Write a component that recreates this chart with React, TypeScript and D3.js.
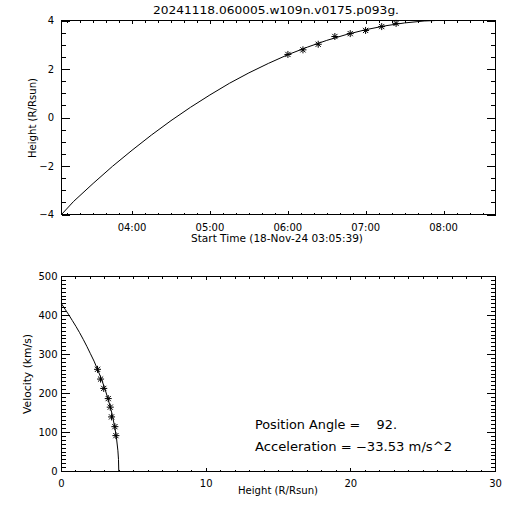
import React from "react";
import * as d3 from "d3";

// ---------- data ----------
const titleText = "20241118.060005.w109n.v0175.p093g.";
const dayStr = "2024-11-18";
const startTime = "03:05:39";
const endTime = "08:40:00";

// fitted height-time curve
const fitTimes = ["03:05:39","03:15:00","03:30:00","03:45:00","04:00:00","04:15:00","04:30:00","04:45:00","05:00:00","05:15:00","05:30:00","05:45:00","06:00:00","06:15:00","06:30:00","06:45:00","07:00:00","07:15:00","07:30:00","07:45:00","07:54:00"];
const fitHeights = [-4.00,-3.46,-2.72,-2.01,-1.35,-0.72,-0.13,0.42,0.93,1.41,1.84,2.23,2.59,2.90,3.18,3.42,3.62,3.78,3.90,3.98,4.00];

// measured points (asterisks)
const obsTimes = ["06:00:05","06:11:40","06:23:25","06:36:15","06:48:05","06:59:55","07:12:20","07:23:25"];
const obsHeights = [2.60,2.79,3.02,3.34,3.46,3.59,3.75,3.88];

// velocity vs height curve
const velCurveHeights = [0,0.25,0.5,0.75,1.0,1.25,1.5,1.75,2.0,2.25,2.5,2.75,3.0,3.25,3.5,3.7,3.8,3.9,3.94,3.96];
const velCurveValues = [430,416,402,387,372,356,339,321,302,283,261,238,212,182,147,110,86,53,31,0];

const obsVelHeights = [2.49,2.70,2.92,3.23,3.37,3.46,3.69,3.76];
const obsVelValues = [262,237,213,187,165,140,115,92];

const timeTickLabels = ["04:00","05:00","06:00","07:00","08:00"];
const heightTicks = [-4,-2,0,2,4];
const velTicks = [0,100,200,300,400,500];
const rTicks = [0,10,20,30];

const positionAngle = "92.";
const acceleration = "−33.53";

// ---------- layout ----------
const FONT = "DejaVu Sans, sans-serif";
const X0 = 61.5, X1 = 495.5;
const T0 = 20.5, T1 = 214.5;
const B0 = 276.5, B1 = 471.5;

const parse = d3.timeParse("%Y-%m-%d %H:%M:%S");
const pt = (s: string) => parse(`${dayStr} ${s.length === 5 ? s + ":00" : s}`) as Date;

const Star = ({ x, y }: { x: number; y: number }) => {
  const r = 3.5, d = 2.6;
  return (
    <g stroke="#000" strokeWidth={1}>
      <line x1={x - r} y1={y} x2={x + r} y2={y} />
      <line x1={x} y1={y - r} x2={x} y2={y + r} />
      <line x1={x - d} y1={y - d} x2={x + d} y2={y + d} />
      <line x1={x - d} y1={y + d} x2={x + d} y2={y - d} />
    </g>
  );
};

export default function App() {
  const xT = d3.scaleTime().domain([pt(startTime), pt(endTime)]).range([X0, X1]);
  const yH = d3.scaleLinear().domain([-4, 4]).range([T1, T0]);
  const xR = d3.scaleLinear().domain([0, 30]).range([X0, X1]);
  const yV = d3.scaleLinear().domain([0, 500]).range([B1, B0]);

  const topLine = d3.line<number>()
    .x((_, i) => xT(pt(fitTimes[i])))
    .y((h) => yH(h));
  const botLine = d3.line<number>()
    .x((_, i) => xR(velCurveHeights[i]))
    .y((v) => yV(v));

  // ticks
  const tMinor = d3.timeMinute.every(10)!.range(pt(startTime), pt(endTime));
  const hMinor = d3.range(-4, 4.001, 0.5);
  const rMinor = d3.range(0, 30.001, 1);
  const vMinor = d3.range(0, 500.001, 10);

  const xMajLenTop = 3.9, xMinLenTop = 2;
  const yMajLen = 8.7, yMinLen = 4.3;

  const lbl = { fontFamily: FONT, fontSize: 10, fill: "#000" } as const;

  return (
    <svg width={512} height={512} style={{ position: "absolute", left: 0, top: 0, background: "#fff" }}>
      <rect width={512} height={512} fill="#fff" />
      <text x={276} y={14} textAnchor="middle" {...lbl} fontSize={11} textLength={246} lengthAdjust="spacingAndGlyphs">{titleText}</text>

      {/* ---------- top plot ---------- */}
      <g stroke="#000" strokeWidth={1} shapeRendering="crispEdges" fill="none">
        <rect x={X0} y={T0} width={X1 - X0} height={T1 - T0} />
        {tMinor.map((d, i) => {
          const x = Math.round(xT(d)) + 0.5;
          const major = d.getMinutes() === 0;
          const L = major ? xMajLenTop : xMinLenTop;
          return (
            <g key={"tm" + i}>
              <line x1={x} x2={x} y1={T1} y2={T1 - L} />
              <line x1={x} x2={x} y1={T0} y2={T0 + L} />
            </g>
          );
        })}
        {hMinor.map((h, i) => {
          const y = Math.round(yH(h)) + 0.5;
          const major = Math.abs(h % 2) < 1e-6;
          const L = major ? yMajLen : yMinLen;
          return (
            <g key={"hm" + i}>
              <line x1={X0} x2={X0 + L} y1={y} y2={y} />
              <line x1={X1} x2={X1 - L} y1={y} y2={y} />
            </g>
          );
        })}
      </g>
      <path d={topLine(fitHeights) || ""} fill="none" stroke="#000" strokeWidth={1} />
      {obsTimes.map((t, i) => (
        <Star key={"s" + i} x={xT(pt(t))} y={yH(obsHeights[i])} />
      ))}
      {timeTickLabels.map((s) => (
        <text key={s} x={xT(pt(s))} y={230.5} textAnchor="middle" {...lbl}>{s}</text>
      ))}
      {heightTicks.map((h) => (
        <text key={"hl" + h} x={54} y={yH(h) + 3.5} textAnchor="end" {...lbl}>{h < 0 ? "−" + Math.abs(h) : String(h)}</text>
      ))}
      <text x={277} y={242} textAnchor="middle" {...lbl} textLength={172} lengthAdjust="spacingAndGlyphs">Start Time (18-Nov-24 03:05:39)</text>
      <text transform={`translate(35.5,118) rotate(-90)`} textAnchor="middle" {...lbl} textLength={80} lengthAdjust="spacingAndGlyphs">Height (R/Rsun)</text>

      {/* ---------- bottom plot ---------- */}
      <g stroke="#000" strokeWidth={1} shapeRendering="crispEdges" fill="none">
        <rect x={X0} y={B0} width={X1 - X0} height={B1 - B0} />
        {rMinor.map((r, i) => {
          const x = Math.round(xR(r) - 0.5) + 0.5;
          const major = r % 10 === 0;
          const L = major ? xMajLenTop : xMinLenTop;
          return (
            <g key={"rm" + i}>
              <line x1={x} x2={x} y1={B1} y2={B1 - L} />
              <line x1={x} x2={x} y1={B0} y2={B0 + L} />
            </g>
          );
        })}
        {vMinor.map((v, i) => {
          const y = Math.round(yV(v) - 0.5) + 0.5;
          const major = v % 100 === 0;
          const L = major ? yMajLen : yMinLen;
          return (
            <g key={"vm" + i}>
              <line x1={X0} x2={X0 + L} y1={y} y2={y} />
              <line x1={X1} x2={X1 - L} y1={y} y2={y} />
            </g>
          );
        })}
      </g>
      <path d={botLine(velCurveValues) || ""} fill="none" stroke="#000" strokeWidth={1} />
      {obsVelHeights.map((h, i) => (
        <Star key={"v" + i} x={xR(h)} y={yV(obsVelValues[i])} />
      ))}
      {velTicks.map((v) => (
        <text key={"vl" + v} x={57.5} y={yV(v) + 3.5} textAnchor="end" {...lbl}>{String(v)}</text>
      ))}
      {rTicks.map((r) => (
        <text key={"rl" + r} x={xR(r)} y={487} textAnchor="middle" {...lbl}>{String(r)}</text>
      ))}
      <text x={278} y={494} textAnchor="middle" {...lbl} textLength={80} lengthAdjust="spacingAndGlyphs">Height (R/Rsun)</text>
      <text transform={`translate(30.5,374) rotate(-90)`} textAnchor="middle" {...lbl} textLength={80} lengthAdjust="spacingAndGlyphs">Velocity (km/s)</text>

      <text x={255} y={429} {...lbl} fontSize={12} textLength={142} lengthAdjust="spacingAndGlyphs" style={{ whiteSpace: "pre" }}>{`Position Angle =    ${positionAngle}`}</text>
      <text x={255} y={451} {...lbl} fontSize={12} textLength={197} lengthAdjust="spacingAndGlyphs" style={{ whiteSpace: "pre" }}>{`Acceleration = ${acceleration} m/s^2`}</text>
    </svg>
  );
}
